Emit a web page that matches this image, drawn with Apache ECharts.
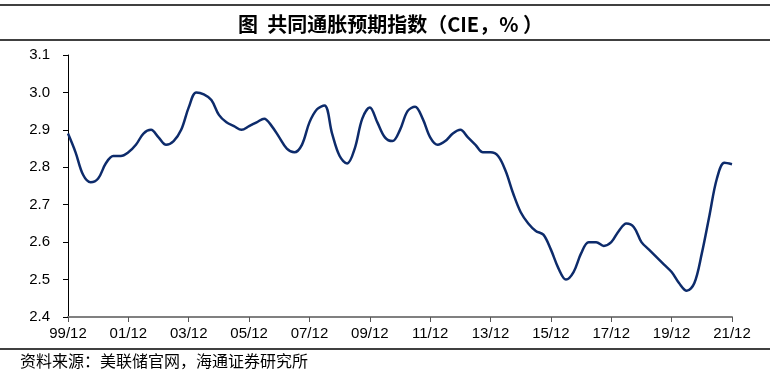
<!DOCTYPE html>
<html><head><meta charset="utf-8">
<script src="https://cdn.jsdelivr.net/npm/echarts@6/dist/echarts.min.js"></script>
<style>html,body{margin:0;padding:0;background:#fff}#c{width:781px;height:381px}</style>
</head><body><div id="c"></div>
<script>
const titleText = '图  共同通胀预期指数（CIE，% ）';
const sourceText = '资料来源：美联储官网，海通证券研究所';
const startYear = 1999, startQuarter = 4, nQuarters = 89;
const cieValues = [
  2.89,2.84,2.78,2.76,2.77,2.81,2.83,2.83,2.84,2.86,
  2.89,2.90,2.88,2.86,2.87,2.90,2.96,3.00,2.995,2.98,
  2.94,2.92,2.91,2.90,2.91,2.92,2.93,2.91,2.88,2.85,
  2.84,2.86,2.92,2.955,2.965,2.89,2.83,2.81,2.85,2.93,
  2.96,2.92,2.88,2.87,2.90,2.95,2.962,2.93,2.88,2.86,
  2.87,2.89,2.90,2.88,2.86,2.84,2.84,2.83,2.79,2.73,
  2.68,2.65,2.63,2.62,2.58,2.53,2.50,2.52,2.57,2.60,
  2.60,2.59,2.60,2.63,2.65,2.64,2.60,2.58,2.56,2.54,
  2.52,2.49,2.47,2.49,2.57,2.67,2.77,2.812,2.808
];
const yMin = 2.4, yMax = 3.1, yStep = 0.1;
// category labels YY/MM for each quarter end
const categories = [];
for (let k = 0; k < nQuarters; k++) {
  const q = startQuarter - 1 + k;
  const y = startYear + Math.floor(q / 4);
  const m = (q % 4 + 1) * 3;
  categories.push(String(y % 100).padStart(2, '0') + '/' + String(m).padStart(2, '0'));
}
const chart = echarts.init(document.getElementById('c'), null, {renderer: 'canvas'});
chart.setOption({
  animation: false,
  backgroundColor: '#fff',
  grid: {left: 68, right: 49, top: 55, bottom: 64},
  title: {
    text: titleText, left: 'center', top: 9,
    textStyle: {fontFamily: '"Noto Sans CJK SC", sans-serif', fontSize: 20, fontWeight: 'bold', color: '#000'}
  },
  graphic: [
    {type: 'line', shape: {x1: 0, y1: 5, x2: 770, y2: 5}, style: {stroke: '#000', lineWidth: 1.5}},
    {type: 'line', shape: {x1: 0, y1: 40, x2: 770, y2: 40}, style: {stroke: '#000', lineWidth: 1.5}},
    {type: 'line', shape: {x1: 0, y1: 349, x2: 770, y2: 349}, style: {stroke: '#000', lineWidth: 1.5}},
    {type: 'text', left: 20, top: 353, style: {text: sourceText, font: '16px "Noto Sans CJK SC", sans-serif', fill: '#000'}}
  ],
  xAxis: {
    type: 'category', data: categories, boundaryGap: false,
    axisLine: {lineStyle: {color: '#808080', width: 2}},
    axisTick: {interval: 7, length: 5, lineStyle: {color: '#555', width: 1}},
    axisLabel: {interval: 7, margin: 9, color: '#000', fontSize: 15, fontFamily: '"Liberation Sans", Arial, sans-serif'},
    splitLine: {show: false}
  },
  yAxis: {
    type: 'value', min: yMin, max: yMax, interval: yStep,
    axisLine: {show: true, lineStyle: {color: '#000', width: 1}},
    axisTick: {show: true, length: 5, lineStyle: {color: '#000'}},
    axisLabel: {margin: 18, color: '#000', fontSize: 15, fontFamily: '"Liberation Sans", Arial, sans-serif',
      formatter: v => v.toFixed(1)},
    splitLine: {show: false}
  },
  series: [{
    type: 'line', data: cieValues, smooth: 0.35, symbol: 'none',
    lineStyle: {color: '#0d2b6b', width: 2.5}
  }]
});
</script></body></html>
